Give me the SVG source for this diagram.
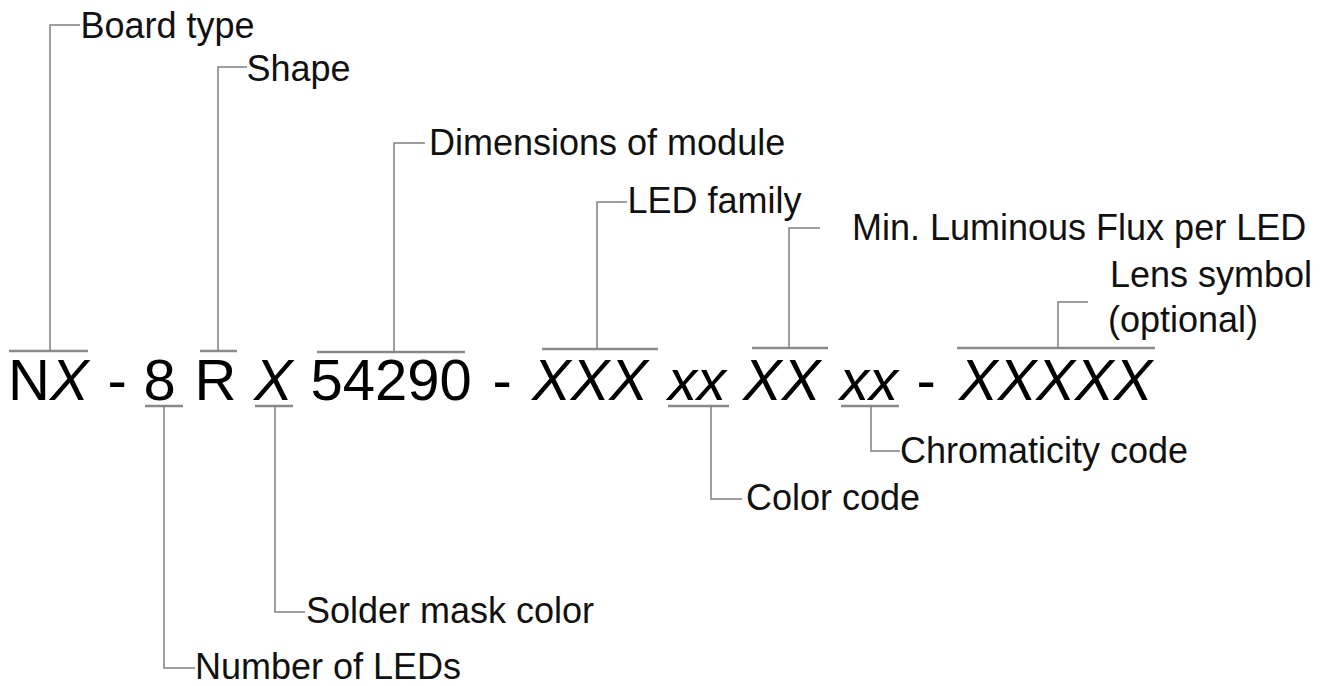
<svg xmlns="http://www.w3.org/2000/svg" width="1329" height="686" viewBox="0 0 1329 686">
<style>
.lbl{font-family:"Liberation Sans",Arial,sans-serif;font-size:36px;fill:#111}
.code{font-family:"Liberation Sans",Arial,sans-serif;font-size:58px;fill:#000}
.it{font-style:italic}
.con{fill:none;stroke:#808080;stroke-width:1.5}
.bar{stroke:#8a8a8a;stroke-width:2.5}
</style>
<rect width="1329" height="686" fill="#fff"/>
<g id="code">
<text class="code" x="8" y="400">N<tspan class="it">X</tspan></text>
<text class="code" x="107.5" y="400">-</text>
<text class="code" x="143.5" y="400">8</text>
<text class="code" x="194.5" y="400">R</text>
<text class="code it" x="254" y="400">X</text>
<text class="code" x="310.5" y="400">54290</text>
<text class="code" x="492.5" y="400">-</text>
<text class="code it" x="532" y="400">XXX</text>
<text class="code it" x="668" y="400">xx</text>
<text class="code it" x="743" y="400">XX</text>
<text class="code it" x="840" y="400">xx</text>
<text class="code" x="916.5" y="400">-</text>
<text class="code it" x="959" y="400">XXXXX</text>
</g>
<g id="bars">
<line class="bar" x1="9" y1="351" x2="88" y2="351"/>
<line class="bar" x1="200" y1="351" x2="237" y2="351"/>
<line class="bar" x1="317" y1="352" x2="465" y2="352"/>
<line class="bar" x1="542" y1="349" x2="658" y2="349"/>
<line class="bar" x1="752" y1="348" x2="828" y2="348"/>
<line class="bar" x1="957" y1="348" x2="1155" y2="348"/>
<line class="bar" x1="145" y1="406" x2="183" y2="406"/>
<line class="bar" x1="255" y1="406" x2="293" y2="406"/>
<line class="bar" x1="668" y1="406" x2="729" y2="406"/>
<line class="bar" x1="841" y1="406" x2="899" y2="406"/>
</g>
<g id="connectors">
<path class="con" d="M50,351V25H80"/>
<path class="con" d="M218,351V67H247"/>
<path class="con" d="M394,352V143H425"/>
<path class="con" d="M597,349V202H627"/>
<path class="con" d="M789,348V228H820"/>
<path class="con" d="M1058,348V302H1088"/>
<path class="con" d="M164,406V668H195"/>
<path class="con" d="M275,406V612H305"/>
<path class="con" d="M711,406V499H742"/>
<path class="con" d="M871,406V451H900"/>
</g>
<g id="board-type"><text class="lbl" x="80.5" y="38">Board type</text></g>
<g id="shape"><text class="lbl" x="246.5" y="81">Shape</text></g>
<g id="dimensions"><text class="lbl" x="429" y="155">Dimensions of module</text></g>
<g id="led-family"><text class="lbl" x="627.5" y="213">LED family</text></g>
<g id="min-flux"><text class="lbl" x="852" y="240">Min. Luminous Flux per LED</text></g>
<g id="lens"><text class="lbl" x="1110" y="287">Lens symbol</text><text class="lbl" x="1108" y="332">(optional)</text></g>
<g id="chromaticity"><text class="lbl" x="900" y="463">Chromaticity code</text></g>
<g id="color-code"><text class="lbl" x="746" y="510">Color code</text></g>
<g id="solder-mask"><text class="lbl" x="306" y="623">Solder mask color</text></g>
<g id="number-leds"><text class="lbl" x="195" y="679">Number of LEDs</text></g>
</svg>
